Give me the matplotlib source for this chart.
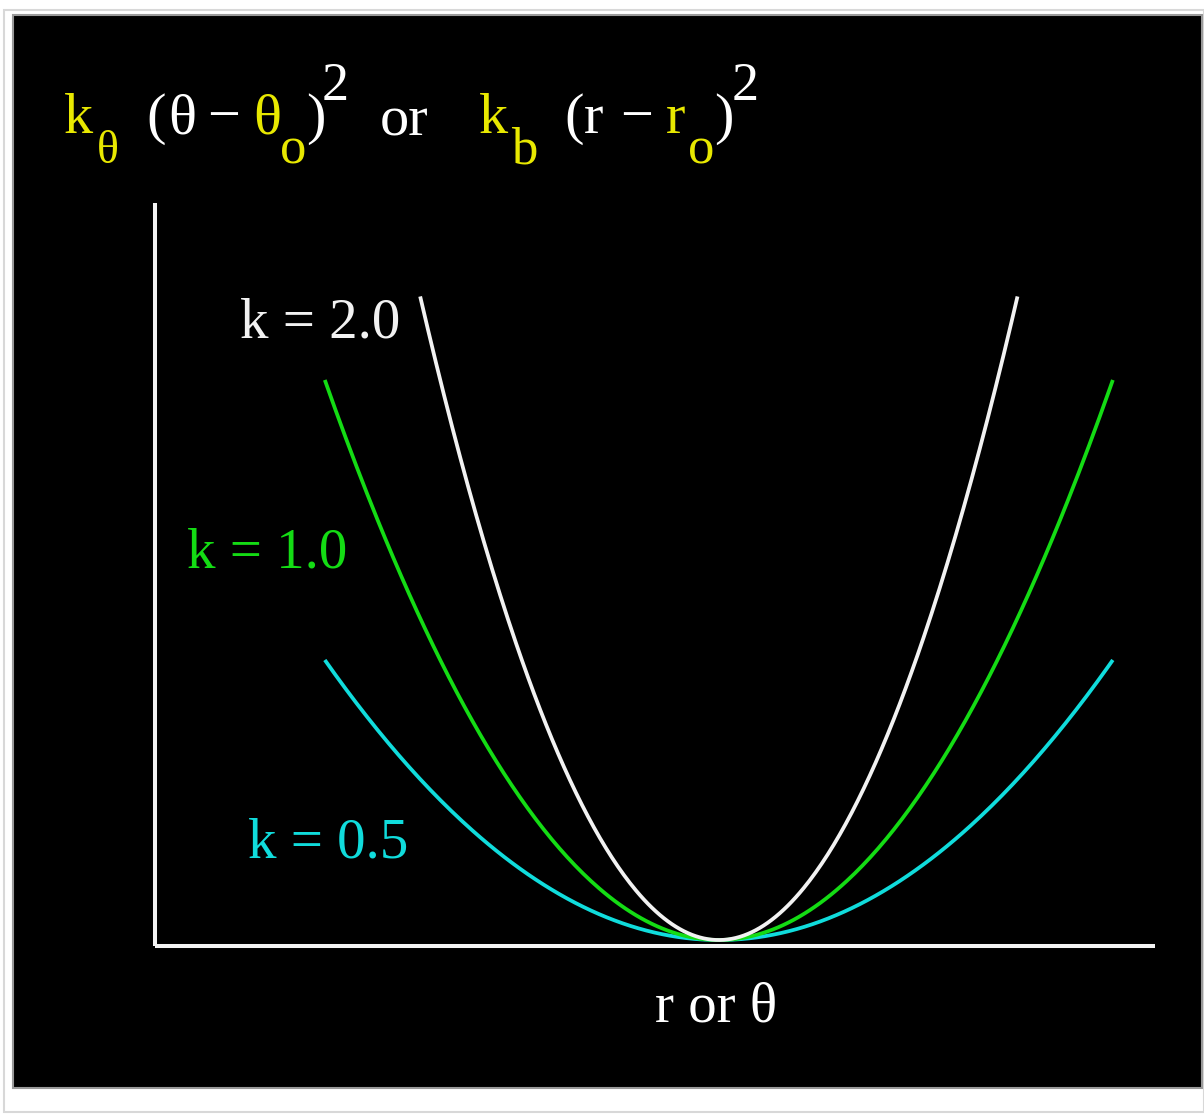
import numpy as np
import matplotlib.pyplot as plt
from matplotlib.patches import Rectangle

# force constants of the three harmonic curves
k_values = [2.0, 1.0, 0.5]
k_labels = ["k = 2.0", "k = 1.0", "k = 0.5"]
curve_colors = ["#f2f2f2", "#14dc14", "#10dcdc"]
# displacement range drawn for each curve (the stiff one is cut at the top)
x_half = [0.758, 1.0, 1.0]

W, H = 1204, 1120
fig = plt.figure(figsize=(W / 100, H / 100), dpi=100, facecolor="white")

SERIF = ["Liberation Serif", "DejaVu Serif"]
YELLOW = "#e8e800"


def fx(px):
    return px / W


def fy(py):
    return 1 - py / H


# outer frame and black panel, kept behind the axes
fig.patches.append(Rectangle((fx(4), fy(1112)), fx(1204 - 4), (1112 - 10) / H,
                             transform=fig.transFigure, facecolor="white",
                             edgecolor="#d8d8d8", lw=1.5, zorder=-3))
fig.patches.append(Rectangle((fx(13), fy(1088)), fx(1202 - 13), (1088 - 15) / H,
                             transform=fig.transFigure, facecolor="black",
                             edgecolor="#9a9a9a", lw=1.5, zorder=-2))

# axes: y axis at x=155 px, x axis at y=946 px
ax = fig.add_axes([fx(155), fy(946), fx(1155 - 155), (946 - 203) / H])
ax.set_facecolor("none")
ax.set_xlim(-1.431, 1.107)
ax.set_ylim(-0.0107, 1.316)
for side in ["top", "right"]:
    ax.spines[side].set_visible(False)
for side in ["left", "bottom"]:
    ax.spines[side].set_color("#f4f4f4")
    ax.spines[side].set_linewidth(2.9)
    ax.spines[side].set_capstyle("butt")
ax.set_xticks([])
ax.set_yticks([])

for i, (k, h, c) in enumerate(zip(k_values, x_half, curve_colors)):
    x = np.linspace(-h, h, 300)
    ax.plot(x, k * x ** 2, color=c, lw=2.7, solid_capstyle="butt", zorder=3 - i * 0.1)


def put(px, py, s, color="white", size=42, ha="left"):
    fig.text(fx(px), fy(py), s, color=color, fontsize=size, family=SERIF,
             ha=ha, va="baseline")


# curve labels
put(240, 338, k_labels[0], curve_colors[0], 41)
put(187, 568, k_labels[1], curve_colors[1], 41)
put(248, 857, k_labels[2], curve_colors[2], 41)

# x axis label
put(716, 1022, "r or \u03b8", "white", 41, ha="center")

# energy expression along the top
base, sub, sup = 133, 163, 100
put(64, base, "k", YELLOW)
put(97, sub, "\u03b8", YELLOW, 33)
put(146, base, "(", "white")
put(168, base, "\u03b8", "white")
put(207, base, "\u2212", "white")
put(253, base, "\u03b8", YELLOW)
put(280, sub, "o", YELLOW, 38)
put(306, base, ")", "white")
put(322, sup, "2", "white", 39)
put(380, base + 3, "or", "white")
put(479, base, "k", YELLOW)
put(511, sub, "b", YELLOW, 38)
put(564, base, "(", "white")
put(584, base, "r", "white")
put(620, base, "\u2212", "white")
put(666, base, "r", YELLOW)
put(688, sub, "o", YELLOW, 38)
put(714, base, ")", "white")
put(732, sup, "2", "white", 39)

fig.savefig("out.png", dpi=100, facecolor="white")
